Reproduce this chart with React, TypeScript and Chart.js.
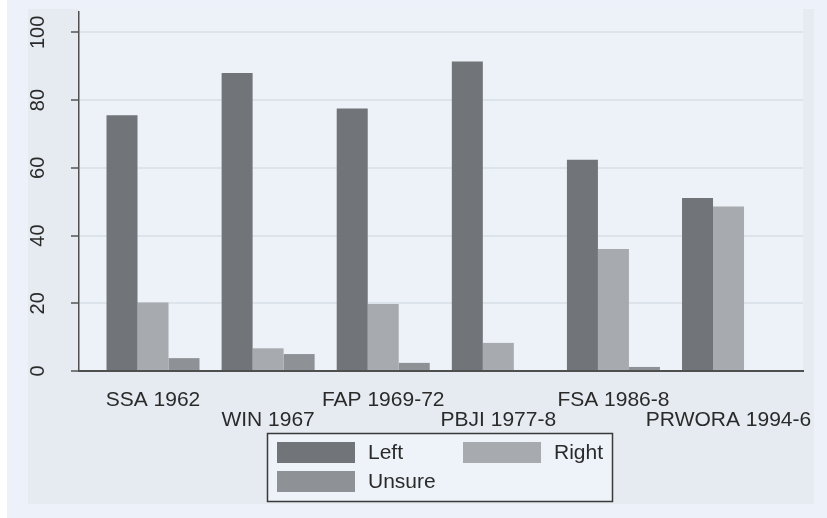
import { useEffect, useRef } from 'react';
import { Chart, registerables } from 'chart.js';

Chart.register(...registerables);

const CATEGORIES = ['SSA 1962', 'WIN 1967', 'FAP 1969-72', 'PBJI 1977-8', 'FSA 1986-8', 'PRWORA 1994-6'];
const LEFT = [75.5, 88, 77.5, 91.4, 62.4, 51.1];
const RIGHT = [20.2, 6.7, 19.8, 8.3, 36.0, 48.6];
const UNSURE = [3.8, 5.0, 2.4, 0, 1.2, 0];
const SERIES = ['Left', 'Right', 'Unsure'];
const Y_TICKS = [0, 20, 40, 60, 80, 100];

const COLORS = ['#717579', '#a7aaae', '#8e9195'];
const FONT = '"Liberation Sans", Arial, Helvetica, sans-serif';
const TEXT = '#2a2a2a';

const backgroundPlugin = {
  id: 'stataBackground',
  beforeDraw(chart: any) {
    const { ctx, chartArea } = chart;
    ctx.save();
    ctx.fillStyle = '#ffffff';
    ctx.fillRect(0, 0, 827, 518);
    ctx.fillStyle = '#edf2fa';
    ctx.fillRect(7, 0, 820, 518);
    ctx.fillStyle = '#e6ebf2';
    ctx.fillRect(28, 9, 786, 495);
    ctx.fillStyle = '#edf2f9';
    ctx.fillRect(chartArea.left, 9, chartArea.right - chartArea.left, chartArea.bottom - 9);
    ctx.restore();
  },
};

const legendPlugin = {
  id: 'stataLegend',
  afterDraw(chart: any) {
    const { ctx } = chart;
    const ds = chart.data.datasets;
    ctx.save();
    ctx.fillStyle = '#eef3fa';
    ctx.fillRect(267, 433, 345, 69);
    ctx.strokeStyle = '#3a3a3a';
    ctx.lineWidth = 1.5;
    ctx.strokeRect(267.5, 433.5, 345, 68);
    const slots = [
      { sx: 277, sy: 442, tx: 368, ty: 453, align: 'left' },
      { sx: 463, sy: 442, tx: 603, ty: 453, align: 'right' },
      { sx: 277, sy: 471, tx: 368, ty: 482, align: 'left' },
    ];
    ctx.font = `21px ${FONT}`;
    ctx.textBaseline = 'middle';
    ds.forEach((d: any, i: number) => {
      const s = slots[i];
      ctx.fillStyle = d.backgroundColor;
      ctx.fillRect(s.sx, s.sy, 78, 21);
      ctx.fillStyle = TEXT;
      ctx.textAlign = s.align;
      ctx.fillText(d.label, s.tx, s.ty);
    });
    ctx.restore();
  },
};

export default function App() {
  const ref = useRef<HTMLCanvasElement | null>(null);

  useEffect(() => {
    document.body.style.margin = '0';
    const canvas = ref.current;
    if (!canvas) return;
    const seriesValues = [LEFT, RIGHT, UNSURE];
    const chart = new Chart(canvas, {
      type: 'bar',
      data: {
        datasets: SERIES.map((name, si) => ({
          label: name,
          data: seriesValues[si].map((v, i) => ({ x: i, y: v })),
          backgroundColor: COLORS[si],
          borderWidth: 0,
          categoryPercentage: 0.808,
          barPercentage: 1,
        })),
      },
      options: {
        responsive: false,
        animation: false,
        devicePixelRatio: 1,
        layout: { padding: { left: 0, top: 12, right: 24, bottom: 85 } },
        plugins: {
          legend: { display: false },
          tooltip: { enabled: false },
        },
        scales: {
          x: {
            type: 'linear',
            offset: false,
            min: -0.643,
            max: 5.647,
            grid: { display: false, offset: false },
            border: { display: true, color: '#4f4f4f', width: 2 },
            afterBuildTicks: (axis: any) => {
              axis.ticks = CATEGORIES.map((_, i) => ({ value: i }));
            },
            afterFit: (axis: any) => {
              axis.height = 62;
              axis.paddingLeft = 0;
              axis.paddingRight = 0;
            },
            ticks: {
              autoSkip: false,
              minRotation: 0,
              maxRotation: 0,
              padding: 11,
              color: TEXT,
              font: { family: FONT, size: 21, lineHeight: 0.96 },
              callback: (value: any) => {
                const i = Math.round(Number(value));
                const label = CATEGORIES[i];
                if (label === undefined) return '';
                return i % 2 === 0 ? [label] : ['', label];
              },
            },
          },
          y: {
            min: 0,
            max: 106,
            afterBuildTicks: (axis: any) => {
              axis.ticks = Y_TICKS.map((v) => ({ value: v }));
            },
            afterFit: (axis: any) => {
              axis.width = 79;
              axis.paddingTop = 0;
              axis.paddingBottom = 0;
            },
            grid: {
              color: (c: any) => (c.tick && c.tick.value === 0 ? 'rgba(0,0,0,0)' : '#dde3ea'),
              lineWidth: 2,
              tickLength: 8,
              tickColor: '#555555',
              tickWidth: 1.5,
            },
            border: { display: true, color: '#4f4f4f', width: 1.5 },
            ticks: {
              minRotation: 90,
              maxRotation: 90,
              crossAlign: 'center',
              padding: 16,
              color: TEXT,
              font: { family: FONT, size: 20, lineHeight: 1 },
            },
          },
        },
      },
      plugins: [backgroundPlugin, legendPlugin],
    } as any);
    return () => chart.destroy();
  }, []);

  return (
    <div style={{ width: 827, height: 518 }}>
      <canvas ref={ref} width={827} height={518} style={{ display: 'block' }} />
    </div>
  );
}
